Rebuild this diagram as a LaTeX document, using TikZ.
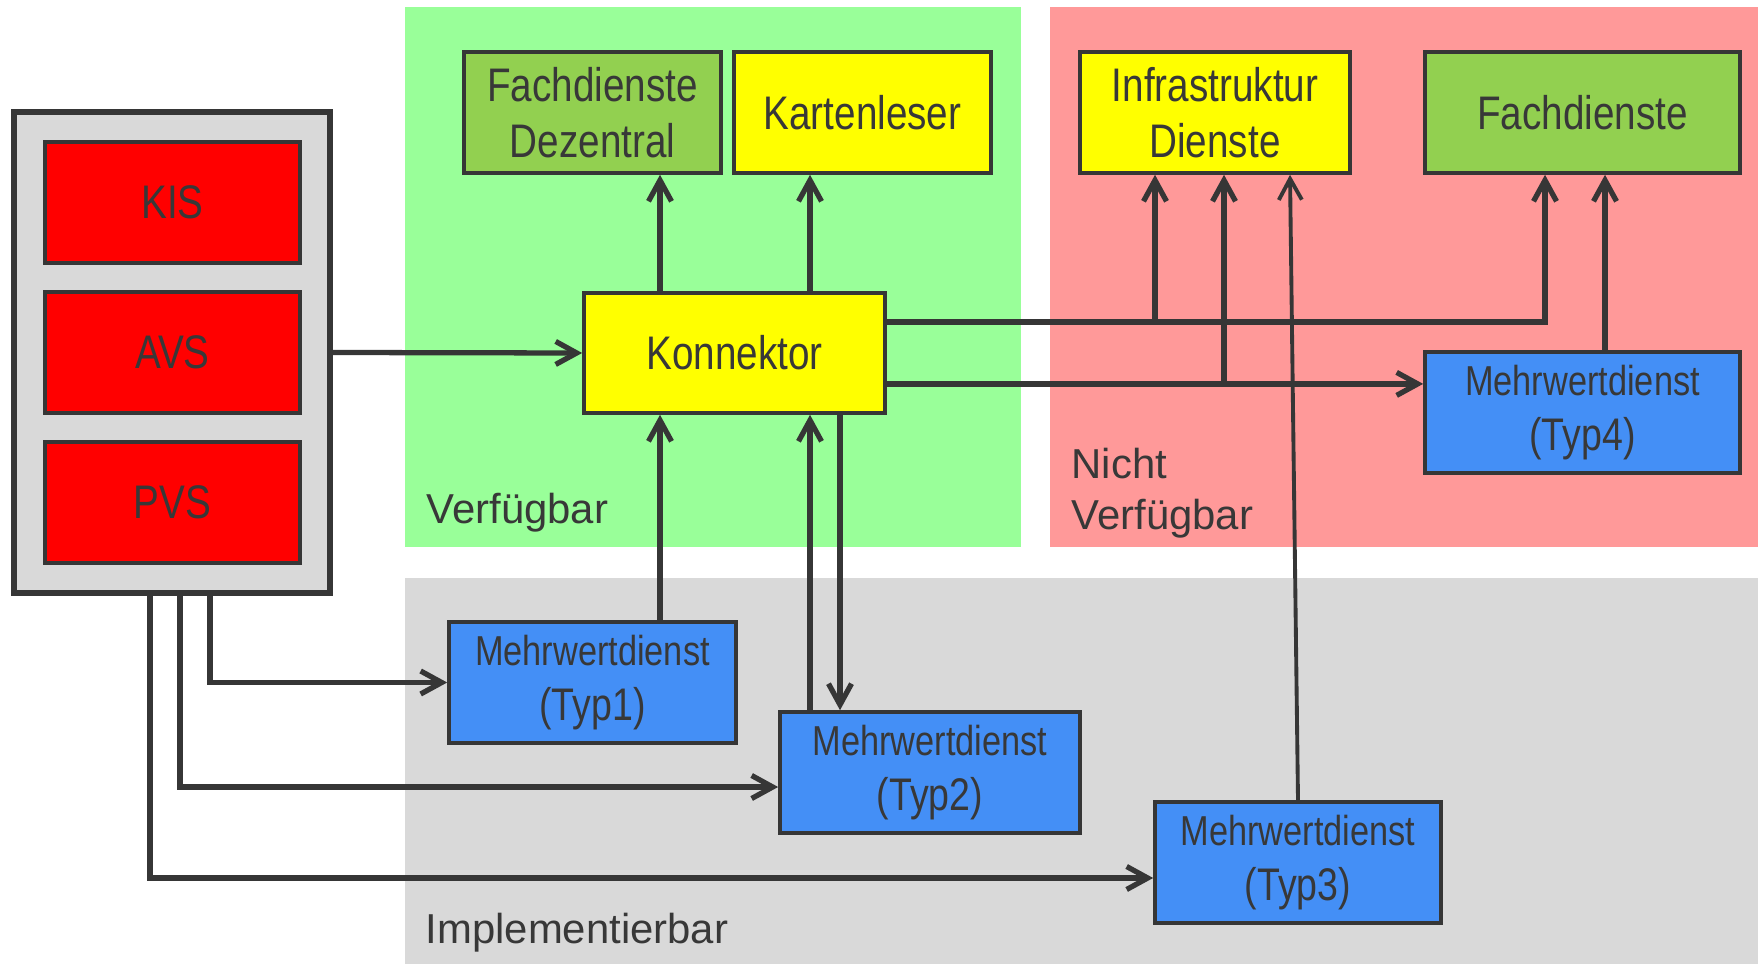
\documentclass[tikz,border=0pt]{standalone}
\usepackage{fontspec}
\setmainfont{Liberation Sans}
\newfontfamily\narrowfont{Liberation Sans}[FakeStretch=0.82]
\usepackage{tikz}
\usetikzlibrary{arrows.meta,positioning,calc}
\definecolor{linec}{HTML}{363636}
\definecolor{textc}{HTML}{383838}
\definecolor{verfc}{HTML}{99FF99}
\definecolor{nichtc}{HTML}{FF9999}
\definecolor{implc}{HTML}{D9D9D9}
\definecolor{appc}{HTML}{FF0000}
\definecolor{gelbc}{HTML}{FFFF00}
\definecolor{fachc}{HTML}{92D050}
\definecolor{mwdc}{HTML}{448FF6}
\newcommand{\boxfont}{\narrowfont\fontsize{13.4}{16}\selectfont}
\newcommand{\mwdfont}{\narrowfont\fontsize{11.9}{15.6}\selectfont}
\newcommand{\typfont}{\fontsize{13}{15.6}\selectfont}
\newcommand{\reglblfont}{\fontsize{11.9}{14.5}\selectfont}
\tikzset{
  sysbox/.style ={draw=linec, fill=implc, line width=1.6pt, inner sep=0pt,
                  minimum width=3.16cm, minimum height=4.81cm},
  appbox/.style ={draw=linec, fill=appc, line width=1pt, inner sep=0pt,
                  minimum width=2.55cm, minimum height=1.21cm,
                  font=\boxfont, text=textc},
  svc/.style    ={draw=linec, line width=1pt, inner sep=0pt,
                  minimum height=1.21cm, align=center,
                  font=\boxfont, text=textc},
  mwd/.style    ={svc, fill=mwdc, font=\mwdfont},
  arr/.style    ={-{Straight Barb[length=2.1mm,width=2.3mm]}, line width=1.5pt,
                  draw=linec},
  thinarr/.style={arr, line width=1.1pt},
  reglbl/.style ={font=\reglblfont, text=textc, anchor=base west,
                  align=left, inner sep=0pt},
}
\begin{document}
\begin{tikzpicture}[x=0.01cm, y=-0.01cm]
  \useasboundingbox (0,0) rectangle (1758,964);
  % regions
  \fill[verfc]  (405,7)   rectangle (1021,547);
  \fill[nichtc] (1050,7)  rectangle (1758,547);
  \fill[implc]  (405,578) rectangle (1758,964);
  \node[reglbl] (lblverf)  at (426,523) {Verfügbar};
  \node[reglbl] (lblnicht) at (1071,529) {Nicht\\Verfügbar};
  \node[reglbl] (lblimpl)  at (425,943) {Implementierbar};

  % systems
  \node[sysbox] (sys) at (172,352.5) {};
  \node[appbox] (kis) at (172.5,202.5) {KIS};
  \node[appbox] (avs) at (172.5,352.5) {AVS};
  \node[appbox] (pvs) at (172.5,502.5) {PVS};

  % services
  \node[svc, fill=fachc, minimum width=2.57cm] (fdz)   at (592.5,112.5)
    {Fachdienste\\Dezentral};
  \node[svc, fill=gelbc, minimum width=2.57cm] (kl)    at (862.5,112.5)
    {Kartenleser};
  \node[svc, fill=gelbc, minimum width=3.01cm, minimum height=1.2cm] (konn)
    at (734.5,353) {Konnektor};
  \node[svc, fill=gelbc, minimum width=2.70cm] (infra) at (1215,112.5)
    {Infrastruktur\\Dienste};
  \node[svc, fill=fachc, minimum width=3.15cm] (fd)    at (1582.5,112.5)
    {Fachdienste};
  \node[mwd, minimum width=3.15cm] (typ4) at (1582.5,412.5)
    {Mehrwertdienst\\{\typfont (Typ4)}};
  \node[mwd, minimum width=2.87cm] (typ1) at (592.5,682.5)
    {Mehrwertdienst\\{\typfont (Typ1)}};
  \node[mwd, minimum width=3.00cm] (typ2) at (930,772.5)
    {Mehrwertdienst\\{\typfont (Typ2)}};
  \node[mwd, minimum width=2.86cm] (typ3) at (1298,862.5)
    {Mehrwertdienst\\{\typfont (Typ3)}};

  % columns and rows of the connectors
  \coordinate (xk1) at (660,0);
  \coordinate (xk2) at (810,0);
  \coordinate (xk3) at (840,0);
  \coordinate (xi1) at (1155,0);
  \coordinate (xi2) at (1224,0);
  \coordinate (xi3) at (1290,0);
  \coordinate (xf1) at (1545,0);
  \coordinate (xf2) at (1605,0);
  \coordinate (xs1) at (150,0);
  \coordinate (xs2) at (180,0);
  \coordinate (xs3) at (210,0);
  \coordinate (r2)  at (0,787);
  \coordinate (r3)  at (0,878);
  \coordinate (kE1) at ($(konn.north east)!.25!(konn.south east)$);
  \coordinate (kE2) at ($(konn.north east)!.75!(konn.south east)$);

  % connectors
  \draw[arr] (sys.east |- avs) -- (konn.west);
  \draw[arr] (konn.north -| xk1) -- (fdz.south -| xk1);
  \draw[arr] (konn.north -| xk2) -- (kl.south -| xk2);
  \draw[arr] (typ1.north -| xk1) -- (konn.south -| xk1);
  \draw[arr] (typ2.north -| xk2) -- (konn.south -| xk2);
  \draw[arr] (konn.south -| xk3) -- (typ2.north -| xk3);
  \draw[arr] (kE1) -| (fd.south -| xf1);
  \draw[arr] (kE1 -| xi1) -- (infra.south -| xi1);
  \draw[arr] (kE2) -- (typ4.west |- kE2);
  \draw[arr] (kE2 -| xi2) -- (infra.south -| xi2);
  \draw[arr] (typ4.north -| xf2) -- (fd.south -| xf2);
  \draw[thinarr] (typ3.north) -- (infra.south -| xi3);
  \draw[arr] (sys.south -| xs3) |- (typ1.west);
  \draw[arr] (sys.south -| xs2) |- (typ2.west |- r2);
  \draw[arr] (sys.south -| xs1) |- (typ3.west |- r3);
\end{tikzpicture}
\end{document}
